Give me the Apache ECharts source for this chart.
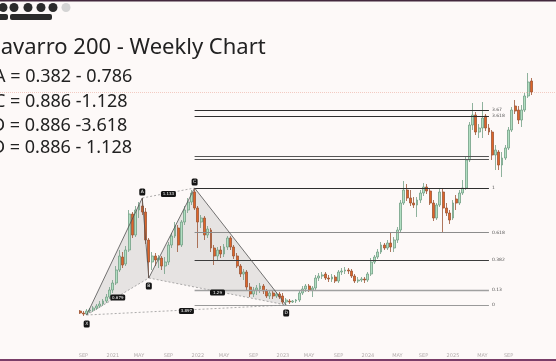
<!DOCTYPE html>
<html><head><meta charset="utf-8">
<script src="https://cdn.jsdelivr.net/npm/echarts@6/dist/echarts.min.js"></script>
<style>html,body{margin:0;padding:0;background:#fdf9f8;}#c{width:556px;height:361px;}</style>
</head><body><div id="c"></div>
<script>
// ---- axis / slots (two-week candles) ----
const startDate = [2019, 8, 23];
const slotDays = 14;
const slotCount = 170;
const firstCandleSlot = 24;
const monthNames = ['JAN','FEB','MAR','APR','MAY','JUN','JUL','AUG','SEP','OCT','NOV','DEC'];
const labelMonths = [1, 5, 9];

// ---- candle values ----
const opens = [940,920,910,940,950,970,990,1010,1040,1080,1150,1220,1350,1480,1410,1550,1910,1700,1950,1990,1930,1650,
1430,1490,1450,1470,1390,1430,1600,1690,1770,1600,1830,1950,2030,2130,1970,1830,1870,1700,1750,1570,1490,1550,1510,1580,1670,1580,1490,1390,1310,1330,1180,1110,1150,1160,1190,1140,1090,1120,1090,1110,1090,
1030,1040,1030,1040,1050,1120,1160,1190,1150,1170,1270,1290,1310,1270,1260,1280,1240,1330,1340,1350,1340,1290,1240,1250,1260,1250,1310,1430,1480,1530,1600,1570,1620,1570,1650,1750,2020,2150,2070,2020,2000,2050,2120,2180,2140,2020,1870,2000,2130,1970,1920,1870,2060,2020,2120,2170,2450,2800,2900,2730,2770,2890,2770,2730,2500,2530,2400,2470,2570,2750,2990,2950,2850,2950,3090,3240];
const closes = [920,910,940,950,970,990,1010,1040,1080,1150,1220,1350,1490,1400,1550,1910,1700,1950,2000,1930,1650,1430,
1490,1450,1470,1390,1430,1600,1690,1790,1600,1830,1950,2030,2120,1970,1830,1870,1700,1760,1570,1490,1550,1510,1580,1670,1580,1490,1390,1310,1330,1180,1110,1150,1170,1190,1140,1090,1120,1090,1110,1080,1030,
1050,1030,1040,1050,1120,1160,1190,1150,1170,1270,1290,1300,1270,1260,1280,1240,1330,1340,1350,1340,1290,1240,1250,1260,1250,1310,1430,1480,1530,1600,1570,1620,1580,1650,1750,2020,2150,2070,2020,2000,2050,2120,2180,2140,2020,1870,2000,2130,1970,1920,1850,2020,2020,2120,2170,2450,2800,2900,2730,2770,2870,2770,2730,2500,2550,2400,2470,2570,2750,2950,2940,2850,2950,3090,3230,3130];
const lows = [910,890,900,920,930,950,970,990,1020,1060,1120,1200,1330,1370,1390,1530,1670,1680,1870,1900,1610,1270,
1350,1390,1370,1350,1310,1400,1570,1670,1530,1580,1800,1920,2000,1950,1570,1770,1650,1670,1530,1400,1450,1470,1480,1550,1550,1460,1370,1280,1250,1150,1080,1080,1100,1120,1110,1070,1060,1060,1070,1060,1010,
1000,1010,1020,1020,1030,1100,1130,1130,1080,1150,1240,1260,1250,1230,1230,1220,1220,1300,1310,1310,1270,1220,1220,1230,1220,1230,1290,1410,1460,1510,1550,1550,1530,1530,1620,1730,2000,2040,1990,1970,1880,2020,2090,2110,2000,1840,1850,1980,1720,1890,1810,1850,1950,2000,2100,2150,2430,2750,2700,2670,2670,2740,2700,2450,2350,2350,2280,2450,2550,2730,2910,2810,2780,2930,3070,3100];
const highs = [950,940,960,970,990,1010,1040,1060,1110,1180,1250,1390,1550,1530,1590,1950,1930,1990,2030,2070,1970,1670,
1530,1520,1500,1490,1480,1630,1720,1830,1800,1850,1990,2070,2150,2170,1990,1900,1890,1790,1770,1600,1580,1590,1610,1690,1690,1600,1520,1410,1360,1350,1220,1180,1200,1220,1210,1160,1150,1140,1130,1130,1120,
1070,1060,1050,1060,1140,1190,1210,1210,1190,1300,1320,1330,1330,1300,1310,1300,1350,1370,1380,1370,1360,1310,1280,1280,1280,1330,1470,1500,1560,1630,1620,1650,1730,1680,1780,2050,2240,2210,2150,2080,2080,2150,2220,2210,2160,2050,2020,2170,2170,2020,1950,2050,2100,2150,2250,2480,2830,3020,2930,2810,3030,2910,2810,2750,2600,2550,2530,2600,2780,2980,3050,2990,3000,3120,3320,3270];

// ---- harmonic pattern ----
const patternNames = ['X','A','B','C','D'];
const patternSlots = [26, 43, 45, 59, 87];
const patternPrices = [900, 2070, 1270, 2170, 1000];
const ratioTexts = ['0.679','1.133','1.29','3.897']; // XB, AC, BD, XD

// ---- levels ----
const fibRatios = [0, 0.13, 0.382, 0.618, 1];
const fibTexts = ['0','0.13','0.382','0.618','1'];
const fibColors = ['#9a9a9a','#a0a0a0','#3c3c3c','#8c8c8c','#2e2e2e'];
const extPrices = [2950, 2890];
const extTexts = ['3.67','3.618'];
const bandPrices = [2485, 2460];
const levelStartSlot = 59, levelEndSlot = 149;
const lastPrice = 3130;

// ---- text ----
const titleText = 'Navarro 200 - Weekly Chart';
const noteLines = ['A = 0.382 - 0.786','C = 0.886 -1.128','D = 0.886 -3.618','D = 0.886 - 1.128'];
const noteX = [-6, -6, -8, -8];
const noteY = [77, 102, 126, 148];

// build categories
const categories = [];
const t0 = Date.UTC(startDate[0], startDate[1], startDate[2]);
for (let i = 0; i < slotCount; i++) {
  categories.push(new Date(t0 + i * slotDays * 86400000).toISOString().slice(0, 10));
}
const lastCandleSlot = firstCandleSlot + opens.length - 1;
const candleData = opens.map((o, i) => [firstCandleSlot + i, o, closes[i], lows[i], highs[i]]);
const patternData = patternSlots.map((s, i) => [s, patternPrices[i]]);

function showLabel(idx) {
  if (idx <= firstCandleSlot - 1 || idx > lastCandleSlot) return false;
  const m = +categories[idx].slice(5, 7);
  if (labelMonths.indexOf(m) < 0) return false;
  return +categories[idx - 1].slice(5, 7) !== m;
}
function fmtLabel(v) {
  const m = +v.slice(5, 7);
  return m === 1 ? v.slice(0, 4) : monthNames[m - 1];
}

function renderFill(params, api) {
  if (params.dataIndex !== 0) return null;
  const p = patternData.map(d => api.coord(d));
  return { type: 'group', children: [
    { type: 'polygon', shape: { points: [p[0], p[1], p[2]] }, style: { fill: 'rgba(140,140,140,0.2)' } },
    { type: 'polygon', shape: { points: [p[2], p[3], p[4]] }, style: { fill: 'rgba(140,140,140,0.2)' } }
  ]};
}
function box(cx, cy, w, h, txt, fs) {
  return [
    { type: 'rect', shape: { x: cx - w / 2, y: cy - h / 2, width: w, height: h, r: 1.5 }, style: { fill: '#151515' } },
    { type: 'text', style: { text: txt, x: cx, y: cy, align: 'center', verticalAlign: 'middle', fill: '#ffffff', fontSize: fs, fontFamily: 'DejaVu Sans' } }
  ];
}
function renderLines(params, api) {
  if (params.dataIndex !== 0) return null;
  const p = patternData.map(d => api.coord(d));
  const [X, A, B, C, D] = p;
  const ch = [];
  const dashed = [[X, B], [A, C], [B, D], [X, D]];
  dashed.forEach(([a, b]) => {
    ch.push({ type: 'line', shape: { x1: a[0], y1: a[1], x2: b[0], y2: b[1] }, style: { stroke: '#8a8a8a', lineWidth: 0.7, lineDash: [2, 2] } });
  });
  ch.push({ type: 'polyline', shape: { points: p }, style: { stroke: '#505050', lineWidth: 0.8, fill: null } });
  dashed.forEach(([a, b], k) => {
    box((a[0] + b[0]) / 2, (a[1] + b[1]) / 2 + 1, 15, 6, ratioTexts[k], 4).forEach(e => ch.push(e));
  });
  const offs = [9, -6, 8, -6, 8];
  p.forEach((q, i) => box(q[0], q[1] + offs[i], 6, 7, patternNames[i], 4.5).forEach(e => ch.push(e)));
  return { type: 'group', children: ch };
}

const fibD = patternPrices[4], fibC = patternPrices[3];
const mlData = [];
fibRatios.forEach((r, i) => {
  const v = fibD + r * (fibC - fibD);
  mlData.push([{ coord: [levelStartSlot, v], lineStyle: { color: fibColors[i], width: i === 1 ? 1.4 : 1, type: 'solid' },
    label: { show: true, formatter: fibTexts[i] } }, { coord: [levelEndSlot, v] }]);
});
extPrices.forEach((v, i) => {
  mlData.push([{ coord: [levelStartSlot, v], lineStyle: { color: '#2e2e2e', width: 1, type: 'solid' },
    label: { show: true, formatter: extTexts[i] } }, { coord: [levelEndSlot, v] }]);
});
bandPrices.forEach(v => {
  mlData.push([{ coord: [levelStartSlot, v], lineStyle: { color: '#555555', width: 1, type: 'solid' }, label: { show: false } }, { coord: [levelEndSlot, v] }]);
});
mlData.push({ yAxis: lastPrice, lineStyle: { color: '#f3cbc2', type: 'dotted', width: 1 }, label: { show: false } });

const chart = echarts.init(document.getElementById('c'), null, { renderer: 'canvas' });
chart.setOption({
  animation: false,
  backgroundColor: '#fdf9f8',
  grid: { left: 0, right: 0, top: 0, height: 350, containLabel: false },
  xAxis: {
    type: 'category', data: categories, boundaryGap: true,
    axisLine: { show: false }, axisTick: { show: false }, splitLine: { show: false },
    axisLabel: { interval: showLabel, formatter: fmtLabel, fontSize: 5, color: '#b3acac', margin: 3, fontFamily: 'DejaVu Sans' }
  },
  yAxis: { type: 'value', min: 550, max: 4050, show: false, splitLine: { show: false } },
  series: [
    { type: 'custom', renderItem: renderFill, data: patternData, encode: { x: 0, y: 1 }, z: 1, silent: true },
    {
      type: 'candlestick', data: candleData, encode: { x: 0, y: [1, 2, 3, 4] }, barWidth: 2.4, z: 3,
      itemStyle: { color: '#b1dfc2', color0: '#df6528', borderColor: '#72a085', borderColor0: '#9c5536', borderWidth: 0.8 },
      markLine: {
        silent: true, symbol: ['none', 'none'], animation: false,
        lineStyle: { type: 'solid' },
        label: { position: 'end', distance: 3, fontSize: 4.5, color: '#555', fontFamily: 'DejaVu Sans' },
        data: mlData
      }
    },
    { type: 'custom', renderItem: renderLines, data: patternData, encode: { x: 0, y: 1 }, z: 5, silent: true }
  ],
  graphic: [
    { type: 'rect', shape: { x: 0, y: 0, width: 556, height: 1.5 }, style: { fill: '#43293d' } },
    { type: 'rect', shape: { x: 0, y: 359, width: 556, height: 2 }, style: { fill: '#7a3d68' } },
    { type: 'circle', shape: { cx: 3, cy: 7.5, r: 4.5 }, style: { fill: '#2b2b2b' } },
    { type: 'circle', shape: { cx: 14, cy: 7.5, r: 4.5 }, style: { fill: '#2b2b2b' } },
    { type: 'circle', shape: { cx: 28, cy: 7.5, r: 4.5 }, style: { fill: '#2b2b2b' } },
    { type: 'circle', shape: { cx: 41, cy: 7.5, r: 4.5 }, style: { fill: '#2b2b2b' } },
    { type: 'circle', shape: { cx: 53, cy: 7.5, r: 4.5 }, style: { fill: '#2b2b2b' } },
    { type: 'circle', shape: { cx: 66, cy: 7.5, r: 4.5 }, style: { fill: '#d4d4d4' } },
    { type: 'rect', shape: { x: -3, y: 14, width: 11, height: 6, r: 2 }, style: { fill: '#2b2b2b' } },
    { type: 'rect', shape: { x: 10, y: 14, width: 42, height: 6, r: 2 }, style: { fill: '#2b2b2b' } },
    { type: 'text', x: -16, y: 48, style: { text: titleText, fontSize: 22, fontFamily: 'Noto Sans', fill: '#222', verticalAlign: 'middle' } },
    ...noteLines.map((t, i) => ({ type: 'text', x: noteX[i], y: noteY[i], style: { text: t, fontSize: 18, fontFamily: 'Noto Sans', fill: '#222', verticalAlign: 'middle' } }))
  ]
});
</script></body></html>
